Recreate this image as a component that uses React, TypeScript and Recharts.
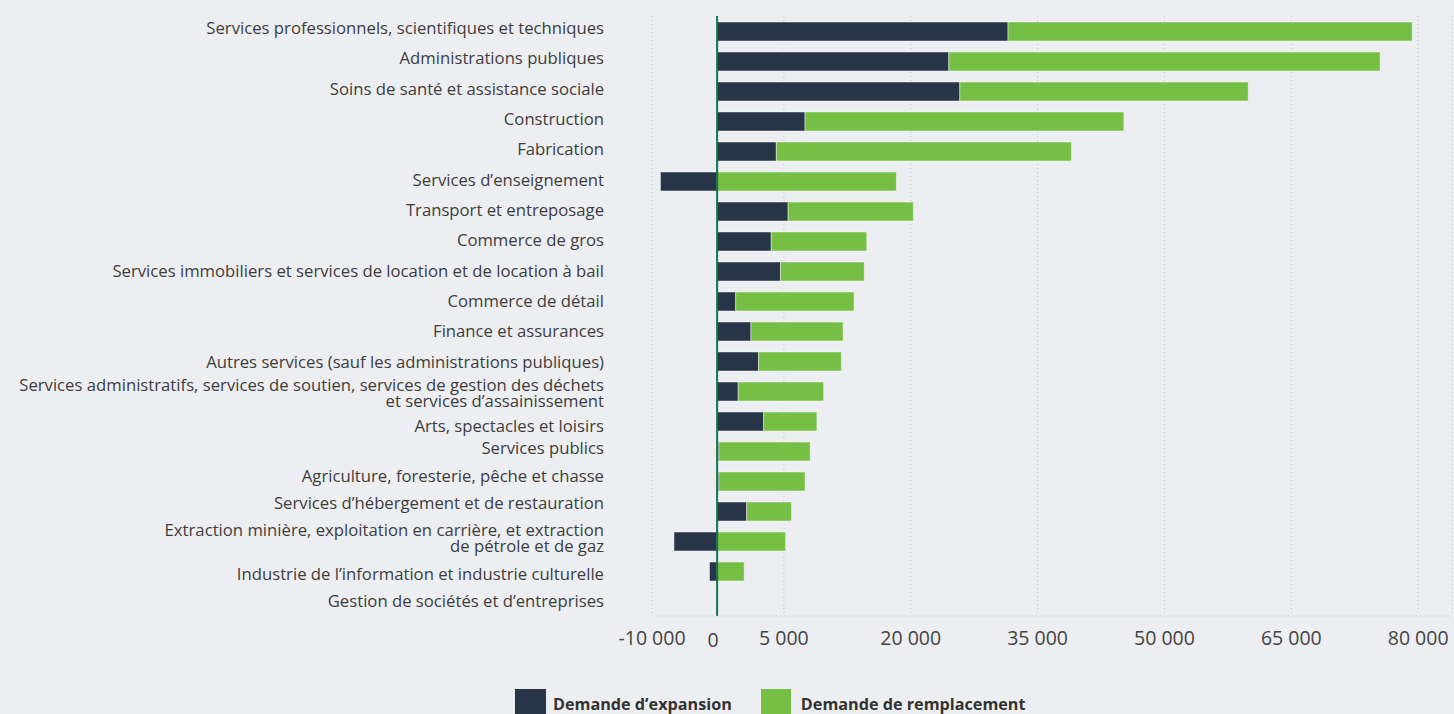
import { BarChart, Bar, XAxis, YAxis, CartesianGrid, ReferenceLine, Legend } from 'recharts';

const categories = [
  'Services professionnels, scientifiques et techniques',
  'Administrations publiques',
  'Soins de santé et assistance sociale',
  'Construction',
  'Fabrication',
  'Services d’enseignement',
  'Transport et entreposage',
  'Commerce de gros',
  'Services immobiliers et services de location et de location à bail',
  'Commerce de détail',
  'Finance et assurances',
  'Autres services (sauf les administrations publiques)',
  'Services administratifs, services de soutien, services de gestion des déchets\net services d’assainissement',
  'Arts, spectacles et loisirs',
  'Services publics',
  'Agriculture, foresterie, pêche et chasse',
  'Services d’hébergement et de restauration',
  'Extraction minière, exploitation en carrière, et extraction\nde pétrole et de gaz',
  'Industrie de l’information et industrie culturelle',
  'Gestion de sociétés et d’entreprises',
];

const expansion = [34400, 27400, 28700, 10400, 7000, -6700, 8400, 6400, 7500, 2200, 4000, 4900, 2500, 5500, 200, 200, 3500, -5100, -900, 100];
const replacement = [47800, 51000, 34100, 37700, 34900, 21200, 14800, 11300, 9900, 14000, 10900, 9800, 10100, 6300, 10800, 10200, 5300, 8100, 3200, 0];

// grid positions on the value scale and the labels shown under them
const gridTicks = [-7700, 7900, 22900, 37900, 52900, 67900, 82900];
const tickLabels = ['-10 000', '5 000', '20 000', '35 000', '50 000', '65 000', '80 000'];

// small vertical nudges of the category labels, as in the source picture
const labelNudge = [-3, -3, -2, -2, -2, -1, -1, -1, 0, 0, 0, 1, 2, 5, -3, -5, -8, -3, 3, 0];

const data = categories.map((name, i) => ({
  name,
  expansion: expansion[i],
  replacement: replacement[i],
}));

const FONT = '"Open Sans", sans-serif';
const DARK = '#283548';
const GREEN = '#75bf44';

const CategoryTick = ({ x, y, payload }: any) => {
  const lines = String(payload.value).split('\n');
  const idx = categories.indexOf(payload.value);
  const start = y + (labelNudge[idx] ?? 0) - ((lines.length - 1) * 16) / 2;
  return (
    <text x={x} y={start} textAnchor="end" fill="#3d3d3d" fontSize={16.7} fontFamily={FONT}>
      {lines.map((l, i) => (
        <tspan key={i} x={x} y={start + i * 16} dy="0.35em">
          {l}
        </tspan>
      ))}
    </text>
  );
};

const ZeroLabel = (props: any) => {
  const vb = props.viewBox || {};
  return (
    <text x={vb.x - 4} y={vb.y + vb.height + 31} textAnchor="middle" fontSize={19.5} fill="#444" fontFamily={FONT}>
      0
    </text>
  );
};

const LegendContent = () => (
  <div style={{ display: 'flex', alignItems: 'center', fontFamily: FONT, fontWeight: 700, fontSize: 16.2, color: '#333' }}>
    <span style={{ width: 31, height: 30, background: DARK, marginRight: 7 }} />
    <span style={{ marginRight: 29 }}>Demande d’expansion</span>
    <span style={{ width: 30, height: 30, background: GREEN, marginRight: 10 }} />
    <span>Demande de remplacement</span>
  </div>
);

export default function App() {
  return (
    <div style={{ position: 'absolute', left: 0, top: 0, width: 1454, height: 714, background: '#edeef1', overflow: 'hidden' }}>
      <BarChart
        width={1454}
        height={714}
        data={data}
        layout="vertical"
        stackOffset="sign"
        margin={{ top: 16, right: 2, left: 0, bottom: 68 }}
        barSize={19}
      >
        <CartesianGrid horizontal={false} stroke="#c4c4c9" strokeDasharray="1 3" />
        <XAxis
          type="number"
          domain={[-7700, 86900]}
          ticks={gridTicks}
          interval={0}
          allowDataOverflow
          tickFormatter={(v: number) => tickLabels[gridTicks.indexOf(v)] ?? ''}
          tick={{ fontSize: 19.5, fill: '#444', fontFamily: FONT }}
          tickLine={false}
          tickSize={0}
          tickMargin={15}
          height={30}
          axisLine={{ stroke: '#c4c4c9', strokeDasharray: '1 3' }}
        />
        <YAxis
          type="category"
          dataKey="name"
          width={652}
          axisLine={false}
          tickLine={false}
          tickSize={0}
          tickMargin={48}
          interval={0}
          tick={<CategoryTick />}
        />
        <Bar dataKey="expansion" name="Demande d’expansion" stackId="a" fill={DARK} stroke="rgba(255,255,255,0.45)" strokeWidth={1} isAnimationActive={false} />
        <Bar dataKey="replacement" name="Demande de remplacement" stackId="a" fill={GREEN} stroke="rgba(255,255,255,0.45)" strokeWidth={1} isAnimationActive={false} />
        <ReferenceLine x={0} stroke="#13744b" strokeWidth={2} label={ZeroLabel} />
        <Legend
          layout="horizontal"
          verticalAlign="middle"
          align="center"
          content={<LegendContent />}
          wrapperStyle={{ top: 689, left: 515, width: 'auto' }}
        />
      </BarChart>
    </div>
  );
}
